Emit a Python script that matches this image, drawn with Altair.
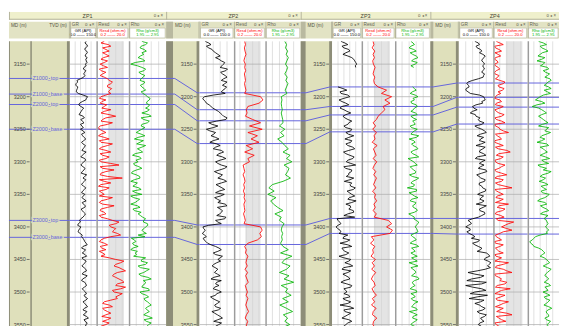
import altair as alt
import pandas as pd

# ---------------- data ----------------
WELLS = ["ZP1", "ZP2", "ZP3", "ZP4"]
DEPTHS = list(range(3115, 3556, 5))                 # main samples
MID_DEPTHS = [3117.5 + 5 * i for i in range(88)]   # in-between samples
DEPTH_TICKS = [3150, 3200, 3250, 3300, 3350, 3400, 3450, 3500, 3550]
TOP_NAMES = ["Z1000_top", "Z1000_base", "Z2000_top", "Z2000_base", "Z3000_top", "Z3000_base"]
TOPS = {
    "ZP1": [3172, 3196, 3212, 3250, 3390, 3416],
    "ZP2": [3194, 3220, 3237, 3272, 3397, 3427],
    "ZP3": [3185, 3215, 3228, 3254, 3387, 3410],
    "ZP4": [3179, 3201, 3216, 3242, 3387, 3411],
}

GR_ZP1 = [92, 96, 88, 95, 90, 98, 93, 88, 80, 90, 78, 78, 40, 35, 45, 38, 48, 100, 90, 55, 62,
          70, 58, 75, 62, 80, 68, 60, 85, 72, 90, 66, 88, 75, 92, 70, 84,
          78, 62, 86, 70, 95, 74, 82, 66, 90, 72, 85, 68, 92, 76, 84, 70, 88, 74,
          55, 48, 62, 50, 58, 66,
          80, 92, 74, 88, 70, 95, 78, 86, 68, 90, 76, 98, 72, 84, 94, 70, 88, 80, 100, 74,
          92, 82, 96, 76, 105, 86, 92, 100]
GR_ZP1_MID = [85, 100, 84, 99, 86, 90, 97, 92, 76, 84, 85, 60, 44, 33, 42, 36, 75, 94, 70, 50,
              78, 64, 52, 82, 70, 60, 76, 74, 66, 80, 78, 74, 82, 68, 80, 62, 90, 70, 74, 80,
              64, 84, 90, 72, 78, 82, 66, 76, 80, 70, 88, 64, 78, 82, 62, 60, 44, 56, 46, 70,
              74, 84, 98, 66, 82, 86, 68, 92, 76, 80, 94, 70, 88, 66, 90, 82, 78, 94, 86, 90,
              84, 100, 74, 88, 94, 80, 98, 88]
GR_ZP2 = [25, 50, 40, 60, 80, 70, 95, 105, 90, 115, 100, 120, 95, 110, 118, 102, 112,
          22, 18, 30, 50, 70, 90, 105, 115, 40, 80, 30, 70, 50, 85, 45,
          90, 60, 105, 75, 115, 70, 95, 110, 65, 100, 80, 118, 72, 98, 85, 108, 66, 92, 112, 78,
          100, 88, 115, 70, 95,
          15, 25, 12, 30, 20, 35, 70, 95, 60, 100, 80, 75,
          55, 80, 65, 90, 50, 75, 85, 60, 95, 70, 58, 88, 66, 92, 54, 78, 100, 62, 84, 72]
GR_ZP2_MID = [40, 30, 55, 70, 90, 85, 110, 98, 122, 92, 112, 105, 120, 100, 112, 95, 60, 14, 26, 42,
              58, 82, 98, 120, 75, 55, 60, 45, 62, 70, 60, 75, 70, 95, 85, 100, 90, 80, 120, 88,
              80, 92, 105, 95, 85, 110, 70, 92, 78, 80, 120, 90, 96, 75, 110, 80, 40, 18, 20, 22,
              16, 28, 50, 85, 80, 70, 90, 92, 62, 68, 72, 78, 62, 95, 70, 66, 82, 75, 48, 72,
              78, 70, 82, 66, 90, 80, 96, 70]
GR_ZP3 = [45, 80, 60, 90, 55, 100, 115, 125, 120, None, None, None, None, None,
          30, 75, 45, 90, 35, 70, 50, 60, 95, 55, 80,
          85, 60, 100, 70, 110, 65, 95, 80, 115, 58, 90, 105, 72, 120, 68, 98, 84, 110, 62, 92,
          118, 76, 100, 88, 122, 70, 95, 108, 80, 115,
          30, 45, 20, 40, 35,
          60, 90, 40, 100, 55, 85, 35, 95, 65, 105, 50, 80, 70, 90, 45, 100, 60, 75, 85, 55,
          95, 40, 110, 65, 80, 50, 100, 70, 90]
GR_ZP3_MID = [65, 50, 85, 70, 80, 110, 120, 118, None, None, None, None, None, None, 55, 40, 80, 60, 50, 85,
              40, 75, 70, 65, 100, 80, 70, 95, 82, 85, 100, 70, 105, 85, 70, 112, 80, 95, 60, 100,
              85, 72, 90, 100, 95, 108, 88, 115, 80, 100, 92, 85, 110, 60, 25, 38, 30, 28, 45, 80,
              55, 75, 80, 50, 65, 70, 60, 85, 90, 60, 95, 55, 85, 60, 75, 95, 70, 60, 90, 70,
              80, 90, 60, 95, 65, 85, 80, 60]
GR_ZP4 = [70, 90, 80, 100, 105, 110, 100, 112, 108, 104, 112, 106, 60, 35, 45, 30, 50,
          108, 115, 104, 60, 80, 50, 75,
          85, 110, 70, 100, 120, 80, 95, 115, 75, 105, 90, 118, 72, 100, 110, 85, 122, 78, 96,
          112, 88, 104, 116, 82, 98, 110, 76, 106, 92, 114, 86,
          40, 55, 30, 50, 45, 70, 90, 60, 85, 95, 120, 135, 110, 140, 125, 115,
          40, 110, 55, 120, 30, 100, 70, 125, 45, 95, 90, 115, 80, 120, 95, 110, 85, 105]
GR_ZP4_MID = [85, 75, 95, 90, 115, 102, 108, 104, 112, 100, 108, 85, 40, 42, 32, 40, 90, 112, 100, 75,
              65, 60, 72, 92, 90, 100, 82, 112, 95, 108, 90, 98, 115, 92, 108, 80, 115, 90, 95, 118,
              100, 88, 115, 90, 100, 118, 96, 108, 92, 100, 120, 90, 112, 100, 60, 50, 42, 48, 35, 60,
              55, 85, 70, 100, 80, 130, 118, 128, 132, 138, 80, 70, 95, 35, 100, 60, 118, 50, 80, 110,
              70, 100, 105, 90, 112, 100, 92, 98]

RES_ZP1 = [5, 7.5, 4, 8, 6, 4.5, 7, 2.5, 7, 3, 4, 5, 8, 9, 7, 8.5, 9, 3, 6, 2.5, 5,
           9, 3, 12, 4, 10, 2.5, 2, 6, 1.5, 8, 3, 7, 2, 9, 4, 6,
           3, 14, 4, 6, 2.5, 16, 5, 3, 8, 2, 5, 10, 3, 4, 7, 2.5, 6, 3,
           10, 12, 9, 11, 13, 9, 3, 5, 2.5, 6, 4, 3,
           12, 15, 11, 16, 13, 10, 14, 17, 12, 15, 11, 14, 13, 5, 8, 4, 7, 6, 9, 4, 6, 5]
RES_ZP1_MID = [3, 9, 6, 4, 8, 3, 5, 4.5, 2, 6, 2.5, 7, 10, 7, 9.5, 7.5, 6, 2, 3.5, 6.5,
               3.5, 5, 8, 6, 3, 7, 1.5, 4, 3, 5, 2, 10, 3.5, 6, 2.5, 8, 2, 9, 2.5, 11,
               3, 7, 2, 9, 1.5, 6, 3.5, 2, 7, 2, 11, 3, 5, 2, 7, 14, 8, 12, 10, 15,
               5, 2, 7, 3.5, 2, 5.5, 8, 17, 12, 14, 18, 11, 12, 16, 13, 18, 10, 16, 12, 9,
               4, 10, 5, 9, 3.5, 7, 8, 3]
RES_ZP2 = [7, 7.5, 6.8, 7.2, 7.8, 7, 6.5, 7.4, 7, 7.6, 6.8, 7.2, 7.5, 6.9, 7.3, 7.8, 7,
           17, 18.5, 16, 9, 8, 8.5, 7.5, 12, 17, 10, 18, 9, 15, 11, 16, 8, 12, 7, 13, 9, 10,
           6, 6.5, 7, 6, 6.8, 7.2, 6.4, 6.9, 6.2, 7, 6.6, 7.3, 6.5, 6.8, 7.1, 6.3, 6.9, 7.4, 6.6,
           17, 18, 16.5, 17.5, 15, 9,
           7, 8, 7.5, 9, 8.2, 7.8, 8.6, 7.2, 8.8, 7.6, 8.4, 9.2, 7.4, 8, 8.7, 7.9, 9, 8.3, 7.7,
           8.5, 9.4, 8.1, 7.3, 8.9, 8.2, 7.8]
RES_ZP3 = [7, 7.5, 6.5, 8, 7, 7.8, 6.8, 7.2, 8.2, 7.5, 7, 8, 7.4, 7.8,
           10, 15, 12, 18, 14, 17, 13, 14, 12, 10, 9,
           7, 8.5, 6.8, 9, 7.6, 8.2, 6.5, 9.4, 7.2, 8, 8.8, 7, 9.2, 7.8, 6.9, 8.6, 7.4, 9, 8.1,
           7.3, 8.7, 6.7, 8.4, 7.9, 9.1, 7.5, 8.3, 7.1, 8.9, 7.7,
           16, 18, 15, 18.5, 17,
           6, 7.5, 5.5, 8, 6.8, 7.2, 5.8, 8.4, 6.5, 7.8, 6.2, 8.6, 7, 6, 7.6, 8.2, 6.4, 7.4, 9,
           6.6, 7.9, 6.1, 8.8, 7.1, 6.7, 9.2, 7.3, 6.9, 8.1]
RES_ZP4 = [2, 6, 1.5, 5, 3, 1.5, 2.5, 1, 3, 2, 1.2, 2.8, 4, 6, 3.5, 5.5, 4.5,
           1.5, 4, 2, 6, 1.2, 3.5, 5,
           2, 7, 1.5, 4, 9, 2.5, 5, 1, 6, 3, 10, 2, 4.5, 1.5, 7, 3.5, 2, 8, 1.2, 5, 3, 11, 2.2,
           6, 1.8, 4, 9, 2.5, 5.5, 1.4, 6.5,
           3, 9, 5, 11, 4, 2, 5, 1.5, 4, 2.5, 6, 1.8,
           3, 9, 2, 6, 11, 1.5, 5, 8, 2.5, 10, 3, 7, 1.8, 9, 4, 6, 2.2, 11, 3.5, 7.5, 2, 5]
RES_ZP4_MID = [4, 1, 3.5, 1.2, 4.5, 1, 3, 1.5, 4, 1, 3.5, 1.5, 7, 3, 6.5, 3, 2.5, 1, 5, 1.5,
               4, 2, 6.5, 1.2, 5, 1, 3.5, 6, 1.5, 4, 1.2, 3.5, 1.5, 8, 3.5, 6, 1.2, 3, 5, 1,
               5, 2.5, 6, 1.5, 7, 1.2, 4, 2.5, 6, 1.5, 3.5, 7, 2, 4.5, 2, 12, 7, 8, 6, 1.5,
               3.5, 1, 6, 1.5, 3.5, 1.2, 5, 1.2, 6, 1.5, 8, 1, 3.5, 4, 7, 1.5, 5, 1.2, 4.5, 2.5,
               6, 1.5, 4, 8, 2, 5, 1, 3.5]

RHO_ZP1 = [2.30, 2.40, 2.25, 2.42, 2.35, 2.20, 2.38, 2.00, 2.30, 2.36, 2.28, 2.33,
           2.25, 2.35, 2.30, 2.40, 2.33, 2.45, 2.50, 2.42, 2.48,
           2.50, 2.30, 2.55, 2.35, 2.45, 2.28, 2.30, 2.15, 2.38, 2.10, 2.25, 2.40, 2.18, 2.32, 2.05, 2.28,
           2.20, 2.10, 2.30, 2.05, 2.15, 2.25, 2.00, 2.12, 2.22, 2.05, 2.30, 2.08, 2.18, 2.00, 2.25,
           2.10, 2.20, 2.32,
           2.35, 2.45, 2.40, 2.30, 2.42, 2.38, 2.10, 2.05, 2.20, 2.00, 2.12, 2.08,
           2.30, 2.45, 2.20, 2.50, 2.35, 2.28, 2.55, 2.40, 2.32, 2.48, 2.25, 2.42, 2.36,
           2.45, 2.55, 2.40, 2.50, 2.35, 2.58, 2.42, 2.48, 2.52]
RHO_ZP1_MID = [2.45, 2.28, 2.36, 2.30, 2.26, 2.32, 2.12, 2.18, 2.40, 2.22,
               2.38, 2.28, 2.38, 2.26, 2.36, 2.28, 2.40, 2.52, 2.44, 2.50,
               2.40, 2.44, 2.48, 2.28, 2.50, 2.30, 2.38, 2.22, 2.28, 2.20,
               2.34, 2.16, 2.30, 2.26, 2.12, 2.24, 2.14, 2.08, 2.22, 2.16,
               2.02, 2.24, 2.10, 2.18, 2.06, 2.28, 2.14, 2.00, 2.24, 2.12,
               2.18, 2.06, 2.28, 2.26, 2.40, 2.34, 2.46, 2.36, 2.34, 2.20,
               2.02, 2.14, 2.08, 2.06, 2.18, 2.16, 2.40, 2.28, 2.40, 2.26,
               2.42, 2.22, 2.46, 2.34, 2.38, 2.30, 2.50, 2.30, 2.48, 2.38,
               2.50, 2.46, 2.44, 2.42, 2.48, 2.36, 2.55, 2.44]
RHO_ZP2 = [2.50, 2.55, 2.52, 2.58, 2.54, 2.60, 2.56, 2.52, 2.58, 2.55, 2.50, 2.57, 2.53, 2.59,
           2.55, 2.51, 2.56, 2.40, 2.42, 2.40, 2.41, 2.43, 2.40, 2.42, 2.44,
           2.45, 2.35, 2.50, 2.38, 2.48, 2.30, 2.42,
           2.50, 2.60, 2.45, 2.65, 2.55, 2.70, 2.48, 2.62, 2.58, 2.52, 2.66, 2.45,
           2.15, 2.05, 2.20, 2.02, 2.25, 2.10, 2.18, 2.30, 2.45, 2.22, 2.40, 2.35, 2.48,
           2.42, 2.40, 2.44, 2.41, 2.43, 2.38,
           2.45, 2.60, 2.38, 2.70, 2.50, 2.42, 2.65, 2.55, 2.35, 2.62, 2.48, 2.75, 2.40, 2.58,
           2.52, 2.68, 2.44, 2.60, 2.36, 2.55, 2.72, 2.46, 2.58, 2.50, 2.64, 2.42]
RHO_ZP3 = [2.40, 2.50, 2.35, 2.55, 2.45, 2.60, 2.42, 2.52, 2.48, None, None, None, None, None,
           2.45, 2.55, 2.38, 2.60, 2.50, 2.42, 2.58, 2.47, 2.53, 2.40, 2.56,
           2.50, 2.38, 2.58, 2.44, 2.62, 2.35, 2.52, 2.46, 2.60, 2.40, 2.55, 2.32, 2.48, 2.58,
           2.42, 2.54, 2.36, 2.62, 2.45, 2.50, 2.30, 2.56, 2.43, 2.60, 2.38, 2.52, 2.47, 2.58,
           2.34, 2.50,
           2.55, 2.60, 2.52, 2.58, 2.50,
           2.45, 2.55, 2.38, 2.62, 2.48, 2.40, 2.58, 2.50, 2.35, 2.60, 2.46, 2.54, 2.42, 2.63,
           2.44, 2.52, 2.38, 2.57, 2.49, 2.41, 2.60, 2.47, 2.55, 2.36, 2.58, 2.45, 2.52, 2.40, 2.56]
RHO_ZP3_MID = [2.46, 2.40, 2.48, 2.38, 2.55, 2.48, 2.58, 2.40, None, None,
               None, None, None, None, 2.50, 2.44, 2.52, 2.46, 2.40, 2.55,
               2.50, 2.40, 2.58, 2.46, 2.45, 2.52, 2.42, 2.50, 2.40, 2.55,
               2.48, 2.42, 2.56, 2.48, 2.45, 2.62, 2.40, 2.52, 2.38, 2.48,
               2.52, 2.44, 2.55, 2.40, 2.48, 2.56, 2.35, 2.50, 2.42, 2.54,
               2.45, 2.56, 2.50, 2.42, 2.48, 2.62, 2.55, 2.56, 2.60, 2.40,
               2.52, 2.44, 2.55, 2.42, 2.52, 2.48, 2.42, 2.58, 2.48, 2.40,
               2.52, 2.48, 2.60, 2.50, 2.46, 2.44, 2.55, 2.40, 2.52, 2.45,
               2.50, 2.42, 2.58, 2.48, 2.46, 2.58, 2.44, 2.50]
RHO_ZP4 = [2.30, 2.55, 2.40, 2.60, 2.35, 2.50, 2.25, 2.45, 2.58,
           2.45, 2.65, 2.50, 2.70, 2.55, 2.62, 2.48, 2.68,
           2.35, 2.20, 2.50, 2.10, 2.40, 2.55, 2.30,
           2.45, 2.60, 2.30, 2.55, 2.68, 2.40, 2.50, 2.25, 2.62, 2.45, 2.58, 2.35, 2.65, 2.48,
           2.28, 2.55, 2.70, 2.42, 2.52, 2.32, 2.60, 2.46, 2.38, 2.64, 2.50, 2.27, 2.56, 2.44,
           2.62, 2.36, 2.52,
           2.55, 2.60, 2.52, 2.62, 2.58,
           2.20, 2.10, 2.05, 2.15, 2.40, 2.50, 2.35,
           2.55, 2.65, 2.45, 2.70, 2.58, 2.50, 2.62, 2.48, 2.68, 2.56, 2.44, 2.66, 2.52, 2.60,
           2.47, 2.72, 2.54, 2.62, 2.50, 2.68, 2.58, 2.64]
RHO_ZP4_MID = [2.45, 2.35, 2.52, 2.42, 2.28, 2.40, 2.50, 2.36, 2.62, 2.52,
               2.58, 2.66, 2.60, 2.48, 2.70, 2.58, 2.45, 2.28, 2.40, 2.25,
               2.30, 2.48, 2.40, 2.38, 2.52, 2.42, 2.62, 2.50, 2.55, 2.35,
               2.40, 2.56, 2.35, 2.50, 2.46, 2.52, 2.40, 2.62, 2.36, 2.45,
               2.60, 2.35, 2.45, 2.50, 2.38, 2.55, 2.42, 2.58, 2.35, 2.50,
               2.36, 2.55, 2.45, 2.60, 2.48, 2.57, 2.56, 2.58, 2.55, 2.35,
               2.15, 2.02, 2.12, 2.30, 2.45, 2.42, 2.48, 2.60, 2.55, 2.58,
               2.64, 2.52, 2.58, 2.55, 2.62, 2.50, 2.60, 2.56, 2.48, 2.66,
               2.55, 2.62, 2.60, 2.56, 2.62, 2.55, 2.62, 2.60]

CURVES = {
    "GR": {"ZP1": (GR_ZP1, GR_ZP1_MID), "ZP2": (GR_ZP2, GR_ZP2_MID),
           "ZP3": (GR_ZP3, GR_ZP3_MID), "ZP4": (GR_ZP4, GR_ZP4_MID)},
    "RES": {"ZP1": (RES_ZP1, RES_ZP1_MID), "ZP2": (RES_ZP2, None),
            "ZP3": (RES_ZP3, None), "ZP4": (RES_ZP4, RES_ZP4_MID)},
    "RHO": {"ZP1": (RHO_ZP1, RHO_ZP1_MID), "ZP2": (RHO_ZP2, None),
            "ZP3": (RHO_ZP3, RHO_ZP3_MID), "ZP4": (RHO_ZP4, RHO_ZP4_MID)},
}

# ---------------- layout / style ----------------
TRACK_H = 293
NAME_H = 8
HEAD_H = 17
DEPTH_DOMAIN = [3115, 3557]
WIDTHS = {
    "ZP1": [62, 27, 33, 38],
    "ZP2": [34, 35, 32, 36],
    "ZP3": [32, 30, 34, 36],
    "ZP4": [29, 35, 35, 32],
}
BORDERS = {"ZP1": 0, "ZP2": 7, "ZP3": 5, "ZP4": 3}
SLANT = {"ZP2": (0.26, 0.93), "ZP3": (0.17, 0.93), "ZP4": (0.1, 0.93)}
OLIVE = "#dfe0bb"
HEAD_OLIVE = "#e2e3c4"
NAME_FILL = "#eff0cc"
DARK = "#8d8d78"
SEP = "#9c9c9c"
BLUE = "#6464dc"
FONT = "Liberation Sans"
ONE = pd.DataFrame({"k": [0]})
YS = alt.Scale(domain=DEPTH_DOMAIN, reverse=True, nice=False, zero=False)

TRACK_SPECS = [
    dict(key="GR", name="GR", legend="GR (API)", rng="0.0 \u2014\u2014 150.0",
         domain=[0, 150], color="#000000", grid=[30, 60, 90, 120], shade=None),
    dict(key="RES", name="Resd", legend="Resd (ohm.m)", rng="0.2 \u2014\u2014 20.0",
         domain=[0.2, 20], color="#ff0000", grid=[4, 8, 12, 16], shade=(7.5, 17.0)),
    dict(key="RHO", name="Rho", legend="Rho (g/cm3)", rng="1.95 \u2014 2.95",
         domain=[1.95, 2.95], color="#00b400", grid=[2.15, 2.35, 2.55, 2.75], shade=None),
]


def curve_frame(values, mids):
    pts = list(zip(DEPTHS, values))
    if mids is not None:
        pts += list(zip(MID_DEPTHS, mids))
    pts.sort(key=lambda p: p[0])
    rows, seg = [], 0
    for d, v in pts:
        if v is None:
            seg += 1
            continue
        rows.append({"depth": d, "v": v, "seg": seg})
    return pd.DataFrame(rows)


def vrule(x, color, w, h):
    return alt.Chart(ONE).mark_rule(color=color, strokeWidth=w).encode(
        x=alt.value(x), y=alt.value(0), y2=alt.value(h))


def text_at(x, y, s, size, color, align="left"):
    return alt.Chart(ONE).mark_text(align=align, baseline="middle", fontSize=size,
                                    color=color, font=FONT).encode(
        x=alt.value(x), y=alt.value(y), text=alt.value(s))


def track_panel(well, spec, width):
    xs = alt.Scale(domain=spec["domain"], nice=False, zero=False)
    layers = []
    if spec["shade"]:
        a, b = spec["shade"]
        layers.append(alt.Chart(pd.DataFrame({"a": [a], "b": [b]})).mark_rect(color="#e4e4e4").encode(
            x=alt.X("a:Q", scale=xs, axis=None), x2=alt.X2("b"),
            y=alt.value(0), y2=alt.value(TRACK_H)))
    layers.append(alt.Chart(pd.DataFrame({"g": spec["grid"]})).mark_rule(
        color="#d4d4d4", strokeWidth=0.7).encode(x=alt.X("g:Q", scale=xs, axis=None)))
    layers.append(alt.Chart(pd.DataFrame({"d": DEPTH_TICKS})).mark_rule(
        color="#a9a9a9", strokeWidth=0.7).encode(y=alt.Y("d:Q", scale=YS, axis=None)))
    layers.append(alt.Chart(pd.DataFrame({"d": TOPS[well]})).mark_rule(
        color=BLUE, strokeWidth=1).encode(y=alt.Y("d:Q", scale=YS, axis=None)))
    vals, mids = CURVES[spec["key"]][well]
    layers.append(alt.Chart(curve_frame(vals, mids)).mark_line(
        color=spec["color"], strokeWidth=0.85, clip=True).encode(
        x=alt.X("v:Q", scale=xs, axis=None),
        y=alt.Y("depth:Q", scale=YS, axis=None),
        order=alt.Order("depth:Q"), detail="seg:N"))
    if spec["key"] != "GR":
        layers.append(vrule(0.75, SEP, 1.5, TRACK_H))
    return alt.layer(*layers).properties(
        width=width, height=TRACK_H, view=alt.ViewBackground(fill="white", stroke=None))


def depth_panel(well, width):
    b = BORDERS[well]
    layers = []
    if b:
        layers.append(alt.Chart(ONE).mark_rect(color=DARK).encode(
            x=alt.value(0), x2=alt.value(b), y=alt.value(0), y2=alt.value(TRACK_H)))
    layers.append(vrule(width - 1.5, DARK, 3, TRACK_H))
    tick_df = pd.DataFrame({"d": DEPTH_TICKS, "label": [str(t) for t in DEPTH_TICKS]})
    if well == "ZP1":
        tick_right = 21
        layers.append(vrule(0.5, DARK, 1, TRACK_H))
        layers.append(vrule(22.5, DARK, 1.5, TRACK_H))
        tdf = pd.DataFrame({"d": TOPS[well], "name": TOP_NAMES})
        layers.append(alt.Chart(tdf).mark_rule(color=BLUE, strokeWidth=1).encode(
            y=alt.Y("d:Q", scale=YS, axis=None)))
        layers.append(alt.Chart(tdf).mark_text(align="left", baseline="middle", fontSize=5.5,
                                               font=FONT, color=OLIVE, stroke=OLIVE, strokeWidth=2.5).encode(
            x=alt.value(24), y=alt.Y("d:Q", scale=YS, axis=None), text="name:N"))
        layers.append(alt.Chart(tdf).mark_text(align="left", baseline="middle", fontSize=5.5,
                                               font=FONT, color=BLUE).encode(
            x=alt.value(24), y=alt.Y("d:Q", scale=YS, axis=None), text="name:N"))
    else:
        tick_right = width - 3
        prev = WELLS[WELLS.index(well) - 1]
        x0, x1 = SLANT[well]
        rows = []
        for name, dp, dc in zip(TOP_NAMES, TOPS[prev], TOPS[well]):
            rows += [{"top": name, "f": 0.0, "depth": dp}, {"top": name, "f": x0, "depth": dp},
                     {"top": name, "f": x1, "depth": dc}, {"top": name, "f": 1.0, "depth": dc}]
        layers.append(alt.Chart(pd.DataFrame(rows)).mark_line(color=BLUE, strokeWidth=1).encode(
            x=alt.X("f:Q", scale=alt.Scale(domain=[0, 1], nice=False, zero=False), axis=None),
            y=alt.Y("depth:Q", scale=YS, axis=None), detail="top:N", order=alt.Order("f:Q")))
    layers.append(alt.Chart(tick_df).mark_rule(color="#555555", strokeWidth=0.8).encode(
        x=alt.value(tick_right - 3), x2=alt.value(tick_right),
        y=alt.Y("d:Q", scale=YS, axis=None)))
    layers.append(alt.Chart(tick_df).mark_text(align="right", baseline="middle", fontSize=5.5,
                                               font=FONT, color="#444444").encode(
        x=alt.value(tick_right - 4), y=alt.Y("d:Q", scale=YS, axis=None), text="label:N"))
    return alt.layer(*layers).properties(
        width=width, height=TRACK_H, view=alt.ViewBackground(fill=OLIVE, stroke=None))


def track_header(spec, width):
    layers = [
        alt.Chart(ONE).mark_rect(fill="white", stroke="#a8a890", strokeWidth=0.5).encode(
            x=alt.value(1), x2=alt.value(width - 1), y=alt.value(6.5), y2=alt.value(HEAD_H - 0.5)),
        text_at(2, 3.4, spec["name"], 4.8, "#666655"),
        text_at(width - 2, 3.4, "o \u25c2 \u00d7", 4.5, "#666655", align="right"),
        text_at(width / 2, 9.5, spec["legend"], 4.2, spec["color"], align="center"),
        text_at(width / 2, 14, spec["rng"], 4.2, spec["color"], align="center"),
        vrule(0.5, "#b4b49c", 1, HEAD_H),
    ]
    return alt.layer(*layers).properties(
        width=width, height=HEAD_H, view=alt.ViewBackground(fill=HEAD_OLIVE, stroke=None))


def depth_header(well, width):
    b = BORDERS[well]
    layers = []
    if b:
        layers.append(alt.Chart(ONE).mark_rect(color="#b9b9a0").encode(
            x=alt.value(0), x2=alt.value(b), y=alt.value(0), y2=alt.value(HEAD_H)))
    layers.append(text_at(b + 2, 4, "MD (m)", 4.8, "#555544"))
    if well == "ZP1":
        layers.append(text_at(width - 3, 4, "TVD (m)", 4.8, "#555544", align="right"))
    layers.append(vrule(width - 0.5, "#b4b49c", 1, HEAD_H))
    return alt.layer(*layers).properties(
        width=width, height=HEAD_H, view=alt.ViewBackground(fill=HEAD_OLIVE, stroke=None))


def name_bar(well, width):
    layers = [
        text_at(width / 2, 4.2, well, 5.5, "#444433", align="center"),
        text_at(width - 3, 4.2, "o \u25c2 \u00d7", 4.5, "#666655", align="right"),
        alt.Chart(ONE).mark_rule(color="#b4b49c", strokeWidth=1).encode(
            x=alt.value(0), x2=alt.value(width), y=alt.value(NAME_H - 0.5)),
        vrule(0.5, "#b4b49c", 1, NAME_H),
    ]
    return alt.layer(*layers).properties(
        width=width, height=NAME_H, view=alt.ViewBackground(fill=NAME_FILL, stroke=None))


names, heads, tracks = [], [], []
for w in WELLS:
    ws = WIDTHS[w]
    names.append(name_bar(w, sum(ws)))
    heads.append(depth_header(w, ws[0]))
    tracks.append(depth_panel(w, ws[0]))
    for spec, tw in zip(TRACK_SPECS, ws[1:]):
        heads.append(track_header(spec, tw))
        tracks.append(track_panel(w, spec, tw))

row1 = alt.hconcat(*names, spacing=0, bounds="flush")
row2 = alt.hconcat(*heads, spacing=0, bounds="flush")
row3 = alt.hconcat(*tracks, spacing=0, bounds="flush")

chart = alt.vconcat(row1, row2, row3, spacing=0).properties(
    padding=0, background="white"
).configure_view(stroke=None)

chart.save("out.html", embed_options={"renderer": "svg", "actions": False})
